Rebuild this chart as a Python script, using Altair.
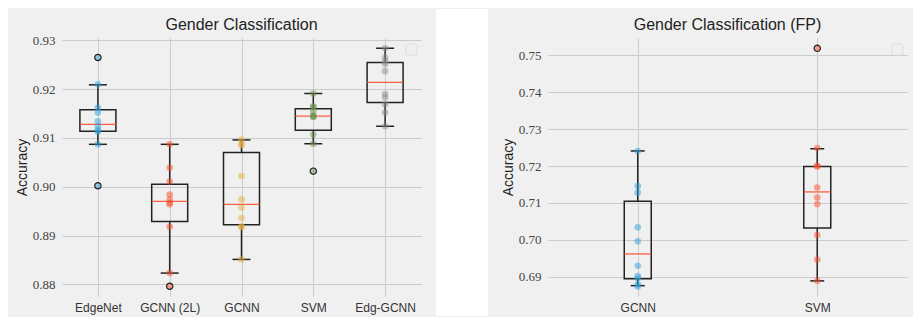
import altair as alt
import pandas as pd

# ---------------- left panel data ----------------
left_models = ["EdgeNet", "GCNN (2L)", "GCNN", "SVM", "Edg-GCNN"]
left_colors = ["#30a2da", "#fc4f30", "#e5ae38", "#6d904f", "#8b8b8b"]
edgenet = [0.9265, 0.9210, 0.9162, 0.9152, 0.9134, 0.9124, 0.9116, 0.9113, 0.9087, 0.9002]
gcnn2l = [0.9087, 0.9039, 0.9011, 0.8984, 0.8974, 0.8967, 0.8964, 0.8918, 0.8823, 0.8796]
gcnn = [0.9097, 0.9088, 0.9085, 0.9022, 0.8974, 0.8957, 0.8936, 0.8919, 0.8917, 0.8851]
svm = [0.9191, 0.9165, 0.9163, 0.9154, 0.9146, 0.9144, 0.9143, 0.9107, 0.9088, 0.9032]
edggcnn = [0.9284, 0.9265, 0.9257, 0.9252, 0.9237, 0.9190, 0.9183, 0.9169, 0.9152, 0.9124]
left_wlo = [0.9087, 0.8823, 0.8851, 0.9088, 0.9124]
left_q1 = [0.9114, 0.8929, 0.8922, 0.9116, 0.9173]
left_med = [0.9128, 0.8970, 0.8964, 0.9145, 0.9214]
left_q3 = [0.9158, 0.9005, 0.9070, 0.9160, 0.9255]
left_whi = [0.9209, 0.9087, 0.9096, 0.9191, 0.9284]
left_out_models = ["EdgeNet", "EdgeNet", "GCNN (2L)", "SVM"]
left_out_values = [0.9265, 0.9002, 0.8796, 0.9032]
left_ticks = [0.88, 0.89, 0.90, 0.91, 0.92, 0.93]
left_domain = [0.8776, 0.9305]
left_title = "Gender Classification"

# ---------------- right panel data ----------------
right_models = ["GCNN", "SVM"]
right_colors = ["#30a2da", "#fc4f30"]
fp_gcnn = [0.7241, 0.7146, 0.7128, 0.7034, 0.6996, 0.6930, 0.6902, 0.6896, 0.6879, 0.6874]
fp_svm = [0.7519, 0.7249, 0.7201, 0.7199, 0.7142, 0.7115, 0.7097, 0.7013, 0.6947, 0.6889]
right_wlo = [0.6876, 0.6889]
right_q1 = [0.6895, 0.7032]
right_med = [0.6962, 0.7130]
right_q3 = [0.7105, 0.7199]
right_whi = [0.7241, 0.7247]
right_out_models = ["SVM"]
right_out_values = [0.7519]
right_ticks = [0.69, 0.70, 0.71, 0.72, 0.73, 0.74, 0.75]
right_domain = [0.6848, 0.7547]
right_title = "Gender Classification (FP)"

W, H = 359, 258
INK = "#222222"
GRID = "#cbcbcb"


def panel(models, colors, series, wlo, q1, med, q3, whi, out_m, out_v,
          ticks, domain, title, box_w, cap_w, gap):
    pts = pd.DataFrame({
        "model": [m for m, s in zip(models, series) for _ in s],
        "value": [v for s in series for v in s],
    })
    stats = pd.DataFrame({"model": models, "wlo": wlo, "q1": q1,
                          "med": med, "q3": q3, "whi": whi})
    outs = pd.DataFrame({"model": out_m, "value": out_v})
    one = pd.DataFrame({"k": [0]})

    x = alt.X("model:N", sort=models,
              scale=alt.Scale(type="point", padding=0.5),
              axis=alt.Axis(title=None, labelAngle=0, labelFont="Liberation Sans",
                            labelFontSize=12, labelColor="#333333", labelPadding=6,
                            ticks=False, domain=False, grid=True,
                            gridColor=GRID, gridWidth=1))
    yscale = alt.Scale(domain=domain, nice=False, zero=False)
    yaxis = alt.Axis(values=ticks, format=".2f", title="Accuracy",
                     titleFont="Liberation Sans", titleFontSize=14,
                     titleFontWeight="normal", titleColor=INK,
                     titleX=-36, titleY=H / 2, titleAngle=-90,
                     titleBaseline="alphabetic",
                     labelFont="Liberation Serif", labelFontSize=13,
                     labelColor="#444444", labelPadding=7,
                     ticks=False, domain=False, grid=True,
                     gridColor=GRID, gridWidth=1)

    def Y(f):
        return alt.Y(f"{f}:Q", scale=yscale, axis=yaxis)

    base = alt.Chart(stats)
    box = base.mark_bar(fillOpacity=0, stroke=INK, strokeWidth=1.5, size=box_w).encode(
        x=x, y=Y("q1"), y2="q3")
    wl = base.mark_rule(color=INK, strokeWidth=1.5).encode(x=x, y=Y("wlo"), y2="q1")
    wh = base.mark_rule(color=INK, strokeWidth=1.5).encode(x=x, y=Y("q3"), y2="whi")
    cl = base.mark_tick(color=INK, thickness=1.5, size=cap_w, opacity=1).encode(x=x, y=Y("wlo"))
    ch = base.mark_tick(color=INK, thickness=1.5, size=cap_w, opacity=1).encode(x=x, y=Y("whi"))
    md = base.mark_tick(color="#fc4f30", thickness=1.3, size=box_w, opacity=0.9).encode(x=x, y=Y("med"))
    dots = alt.Chart(pts).mark_circle(size=44, opacity=0.5).encode(
        x=x, y=Y("value"),
        color=alt.Color("model:N", scale=alt.Scale(domain=models, range=colors), legend=None))
    fl = alt.Chart(outs).mark_point(shape="circle", filled=False, size=40, color=INK,
                                    strokeWidth=1.2, opacity=1).encode(x=x, y=Y("value"))
    leg = alt.Chart(one).mark_rect(fill="#f0f0f0", stroke="#dcdcdc", strokeWidth=1,
                                   cornerRadius=2).encode(
        x=alt.value(W - 15), x2=alt.value(W - 4), y=alt.value(6), y2=alt.value(17))
    ttl = alt.Chart(one).mark_text(text=title, font="Liberation Sans", fontSize=16,
                                   color=INK, align="center", baseline="alphabetic").encode(
        x=alt.value(W / 2), y=alt.value(-8))
    layers = [box, wl, wh, cl, ch, md, dots, fl, leg, ttl]
    if gap:
        g = alt.Chart(one).mark_rect(fill="white").encode(
            x=alt.value(W + 15), x2=alt.value(W + 67), y=alt.value(-29), y2=alt.value(H + 20))
        layers.append(g)
    return alt.layer(*layers).properties(width=W, height=H)


left = panel(left_models, left_colors, [edgenet, gcnn2l, gcnn, svm, edggcnn],
             left_wlo, left_q1, left_med, left_q3, left_whi,
             left_out_models, left_out_values, left_ticks, left_domain,
             left_title, 36, 18, True)
right = panel(right_models, right_colors, [fp_gcnn, fp_svm],
              right_wlo, right_q1, right_med, right_q3, right_whi,
              right_out_models, right_out_values, right_ticks, right_domain,
              right_title, 27, 14, False)

chart = alt.hconcat(left, right, spacing=127, bounds="flush").resolve_scale(
    color="independent", x="independent", y="independent"
).properties(
    padding={"left": 6, "top": 0, "right": 5, "bottom": 0}
).configure(background="#f0f0f0").configure_view(stroke="transparent")

chart.save("out.html", embed_options={"renderer": "svg", "actions": False})
